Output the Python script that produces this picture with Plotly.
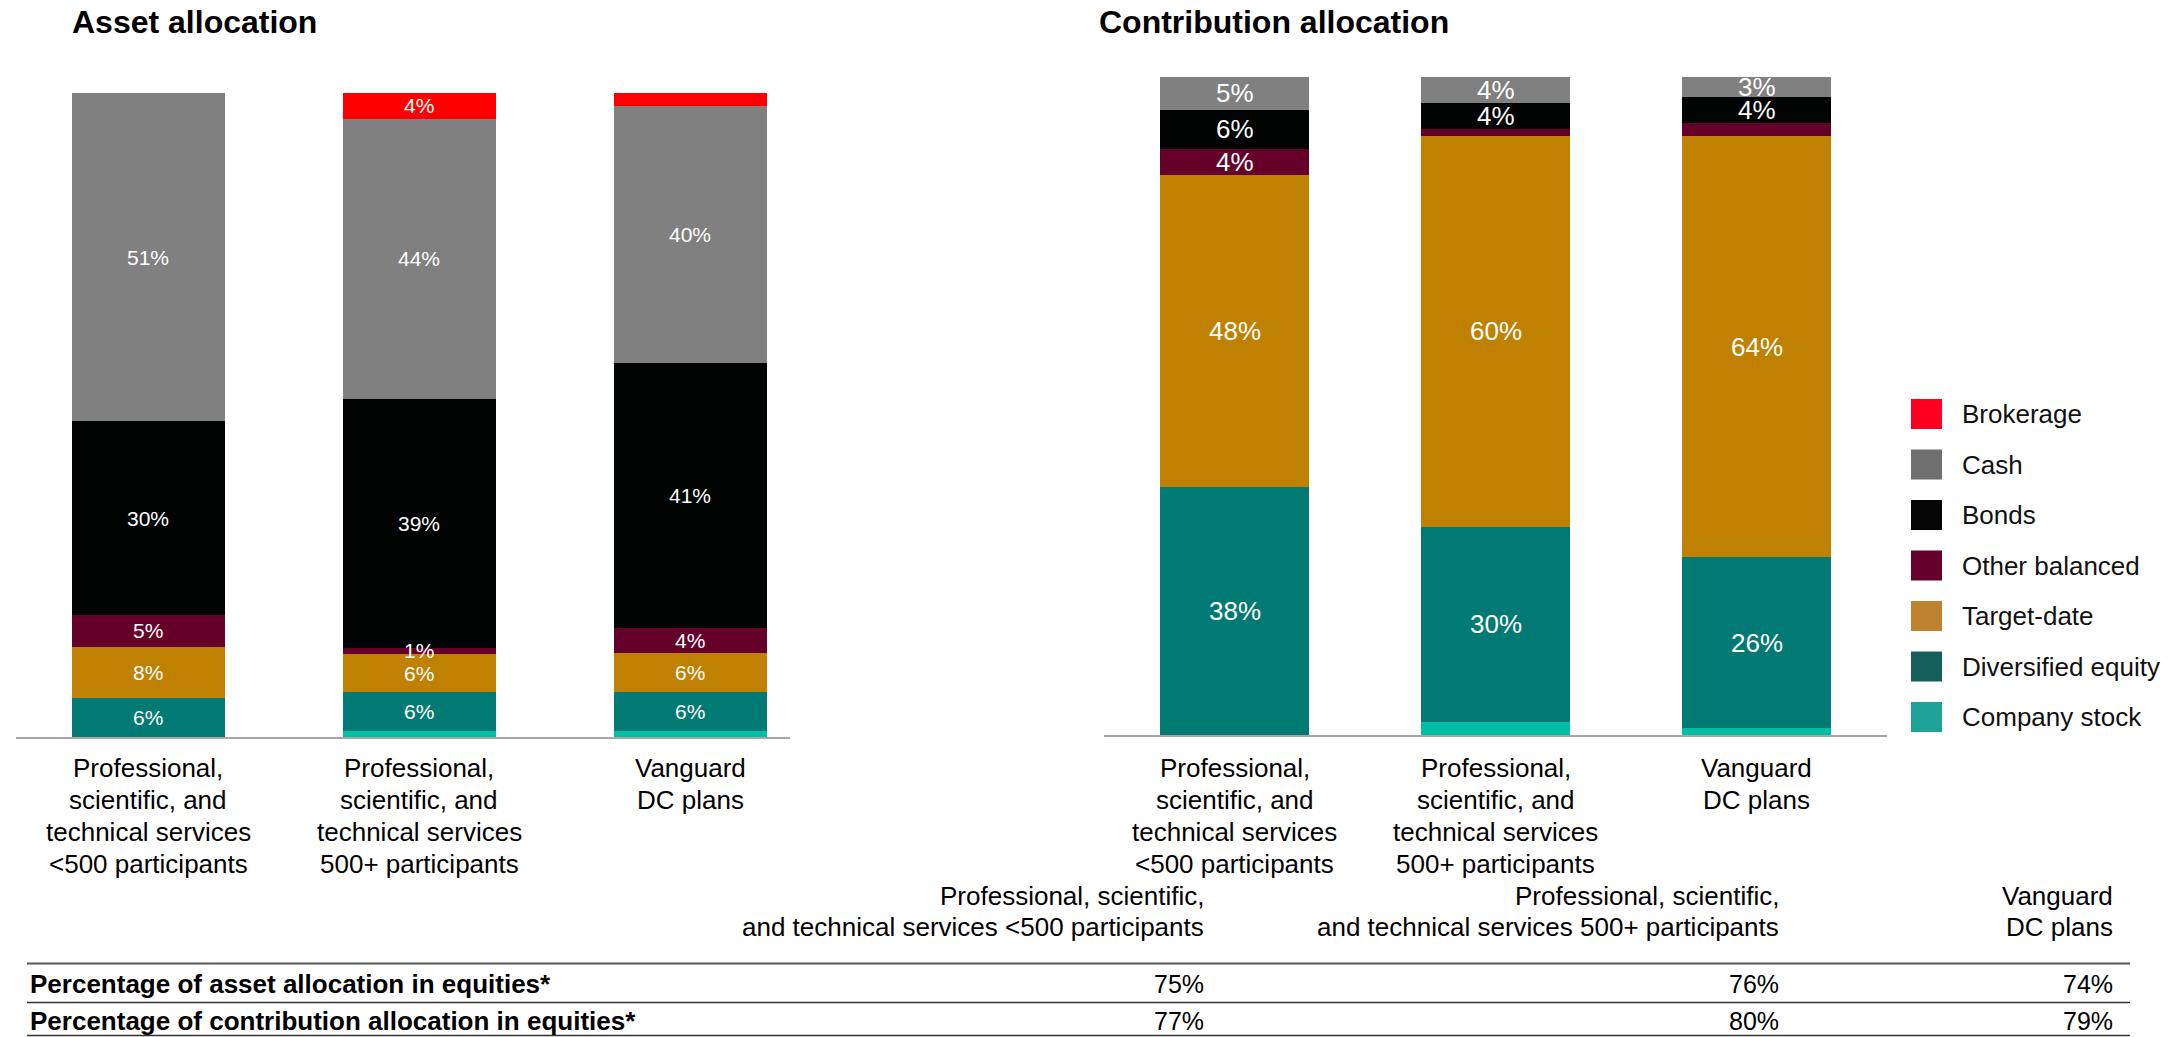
import plotly.graph_objects as go

# ---------------------------------------------------------------- data
categories = [
    "Professional,\nscientific, and\ntechnical services\n<500 participants",
    "Professional,\nscientific, and\ntechnical services\n500+ participants",
    "Vanguard\nDC plans",
]

# stacking order, bottom to top
series_names = ["Company stock", "Diversified equity", "Target-date",
                "Other balanced", "Bonds", "Cash", "Brokerage"]
bar_colors = ["#00BFA5", "#007A73", "#C08000", "#650029",
              "#020404", "#808080", "#FF0000"]
# legend swatches, listed top to bottom
legend_names = ["Brokerage", "Cash", "Bonds", "Other balanced",
                "Target-date", "Diversified equity", "Company stock"]
legend_colors = ["#FF0020", "#6F6F6F", "#050505", "#65002A",
                 "#BE8230", "#155F5A", "#1EA296"]

# Asset allocation (%)
asset_company_stock = [0, 1, 1]
asset_diversified_equity = [6, 6, 6]
asset_target_date = [8, 6, 6]
asset_other_balanced = [5, 1, 4]
asset_bonds = [30, 39, 41]
asset_cash = [51, 44, 40]
asset_brokerage = [0, 4, 2]
asset_unlabeled = [("Company stock", 1), ("Company stock", 2), ("Brokerage", 2)]

# Contribution allocation (%)
contrib_company_stock = [0, 2, 1]
contrib_diversified_equity = [38, 30, 26]
contrib_target_date = [48, 60, 64]
contrib_other_balanced = [4, 1, 2]
contrib_bonds = [6, 4, 4]
contrib_cash = [5, 4, 3]
contrib_brokerage = [0, 0, 0]
contrib_unlabeled = [("Company stock", 1), ("Company stock", 2),
                     ("Other balanced", 1), ("Other balanced", 2)]

# Summary table
table_columns = [
    "Professional, scientific,\nand technical services <500 participants",
    "Professional, scientific,\nand technical services 500+ participants",
    "Vanguard\nDC plans",
]
table_rows = ["Percentage of asset allocation in equities*",
              "Percentage of contribution allocation in equities*"]
equities_asset = [75, 76, 74]
equities_contribution = [77, 80, 79]

# ---------------------------------------------------------------- layout helpers
W, H = 2169, 1037
FONT = "Arial, Liberation Sans, sans-serif"


def px(x):
    return x / W


def py(y):
    return 1 - y / H


def mid_of(baseline, size):
    """Paper y for the vertical centre of a text line with the given baseline."""
    return py(baseline - 0.3465 * size)


asset_values = [asset_company_stock, asset_diversified_equity, asset_target_date,
                asset_other_balanced, asset_bonds, asset_cash, asset_brokerage]
contrib_values = [contrib_company_stock, contrib_diversified_equity, contrib_target_date,
                  contrib_other_balanced, contrib_bonds, contrib_cash, contrib_brokerage]

CAT_SIZE = 26
panels = [
    dict(values=asset_values, unlabeled=asset_unlabeled, xa="x", ya="y",
         width=0.565, label_size=21, title="Asset allocation", title_x=71),
    dict(values=contrib_values, unlabeled=contrib_unlabeled, xa="x2", ya="y2",
         width=0.571, label_size=26, title="Contribution allocation", title_x=1098),
]
cat_first_baseline = 777
cat_line_gap = 32

fig = go.Figure()
annotations = []
shapes = []

for p in panels:
    vals = p["values"]
    for name, color, v in zip(series_names, bar_colors, vals):
        fig.add_trace(go.Bar(
            x=categories, y=v, name=name, marker=dict(color=color, line=dict(width=0)),
            width=p["width"], xaxis=p["xa"], yaxis=p["ya"], showlegend=False,
            hovertemplate="%{x}<br>" + name + ": %{y}%<extra></extra>",
        ))
    # segment labels at the centre of each (normalised) segment
    totals = [sum(col) for col in zip(*vals)]
    for ci, cat in enumerate(categories):
        base = 0
        for name, v in zip(series_names, vals):
            val = v[ci]
            mid = (base + val / 2) / totals[ci] * 100
            base += val
            if val == 0 or (name, ci) in p["unlabeled"]:
                continue
            annotations.append(dict(
                x=cat, y=mid, xref=p["xa"], yref=p["ya"], text=f"{val}%",
                showarrow=False, font=dict(family=FONT, size=p["label_size"], color="white"),
                xanchor="center", yanchor="middle", borderpad=0,
            ))
    # category labels under the axis
    for cat in categories:
        for li, line in enumerate(cat.split("\n")):
            baseline = cat_first_baseline + li * cat_line_gap
            annotations.append(dict(
                x=cat, y=mid_of(baseline, CAT_SIZE), xref=p["xa"], yref="paper",
                text=line, showarrow=False, font=dict(family=FONT, size=CAT_SIZE, color="#000"),
                xanchor="center", yanchor="middle", borderpad=0,
            ))
    # panel title
    annotations.append(dict(
        x=px(p["title_x"]), y=mid_of(33, 32), xref="paper", yref="paper",
        text=p["title"], showarrow=False,
        font=dict(family=FONT, size=32, color="#000", weight="bold"),
        xanchor="left", yanchor="middle", borderpad=0,
    ))

# legend drawn as swatches plus text
for i, (name, color) in enumerate(zip(legend_names, legend_colors)):
    cy = 414 + 50.5 * i
    shapes.append(dict(type="rect", xref="paper", yref="paper",
                       x0=px(1911), x1=px(1942), y0=py(cy + 15), y1=py(cy - 15),
                       fillcolor=color, line=dict(width=0)))
    annotations.append(dict(
        x=px(1961), y=py(cy), xref="paper", yref="paper", text=name,
        showarrow=False, font=dict(family=FONT, size=26, color="#111"),
        xanchor="left", yanchor="middle", borderpad=0,
    ))

# summary table
col_right = [1205, 1780, 2114]
for xr, head in zip(col_right, table_columns):
    for li, line in enumerate(head.split("\n")):
        centre = 896 + li * 31
        annotations.append(dict(
            x=px(xr), y=py(centre), xref="paper", yref="paper",
            text=line, showarrow=False, font=dict(family=FONT, size=26, color="#000"),
            xanchor="right", yanchor="middle", borderpad=0,
        ))

row_centres = [984, 1021]
for label, vals, centre in zip(table_rows, [equities_asset, equities_contribution], row_centres):
    annotations.append(dict(
        x=px(29), y=py(centre), xref="paper", yref="paper",
        text=label, showarrow=False,
        font=dict(family=FONT, size=26, color="#000", weight="bold"),
        xanchor="left", yanchor="middle", borderpad=0,
    ))
    for xr, v in zip(col_right, vals):
        annotations.append(dict(
            x=px(xr), y=py(centre), xref="paper", yref="paper",
            text=f"{v}%", showarrow=False, font=dict(family=FONT, size=25, color="#000"),
            xanchor="right", yanchor="middle", borderpad=0,
        ))

for y, w, c in [(963.5, 2, "#555555"), (1002.5, 1.5, "#333333"), (1035.5, 1.5, "#333333")]:
    shapes.append(dict(type="line", xref="paper", yref="paper",
                       x0=px(27), x1=px(2130), y0=py(y), y1=py(y),
                       line=dict(color=c, width=w)))

axis_common = dict(showline=True, linecolor="#A6A6A6", linewidth=2, showticklabels=False,
                   ticks="", showgrid=False, zeroline=False,
                   type="category", fixedrange=True)
yaxis_common = dict(visible=False, range=[0, 100], fixedrange=True)

fig.update_layout(
    width=W, height=H,
    margin=dict(l=0, r=0, t=0, b=0),
    paper_bgcolor="white", plot_bgcolor="white",
    barmode="stack", barnorm="percent",
    showlegend=False,
    font=dict(family=FONT, color="#000"),
    xaxis=dict(domain=[px(16), px(790)], range=[-0.489, 2.369], anchor="y", **axis_common),
    yaxis=dict(domain=[py(737), py(93)], anchor="x", **yaxis_common),
    xaxis2=dict(domain=[px(1104), px(1887)], range=[-0.5, 2.5], anchor="y2", **axis_common),
    yaxis2=dict(domain=[py(735), py(77)], anchor="x2", **yaxis_common),
    annotations=annotations,
    shapes=shapes,
)

fig.write_html("out.html", config={"displayModeBar": False})
